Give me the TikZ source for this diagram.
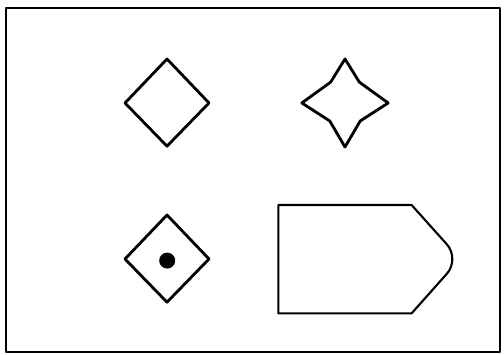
\documentclass[tikz,border=0pt]{standalone}
\usepackage{tikz}
\begin{document}
\begin{tikzpicture}[line join=round]
	\useasboundingbox (0,0) rectangle (12.6,8.875);
	\draw[line width=1.3pt] (0.15,0.075) rectangle (12.5,8.675);
	\foreach \cx/\cy in {4.175/6.3, 4.175/2.4}{
		\begin{scope}[shift={(\cx,\cy)}]
			\draw[line width=2pt] (0,1.1) -- (1.05,0) -- (0,-1.08) -- (-1.05,0) -- cycle;
		\end{scope}
	}
	\fill (4.18,2.36) circle (0.2);
	\begin{scope}[shift={(8.625,6.3)}]
		\draw[line width=2pt] (0,1.1) -- (0.36,0.52) -- (1.08,0) -- (0.38,-0.45)
			-- (0,-1.1) -- (-0.38,-0.45) -- (-1.08,0) -- (-0.36,0.52) -- cycle;
	\end{scope}
	\draw[line width=1.5pt] (6.96,3.75) -- (10.29,3.75)
		[rounded corners=14pt] -- (11.5,2.4) [sharp corners] -- (10.29,1.04) -- (6.96,1.04) -- cycle;
\end{tikzpicture}
\end{document}
